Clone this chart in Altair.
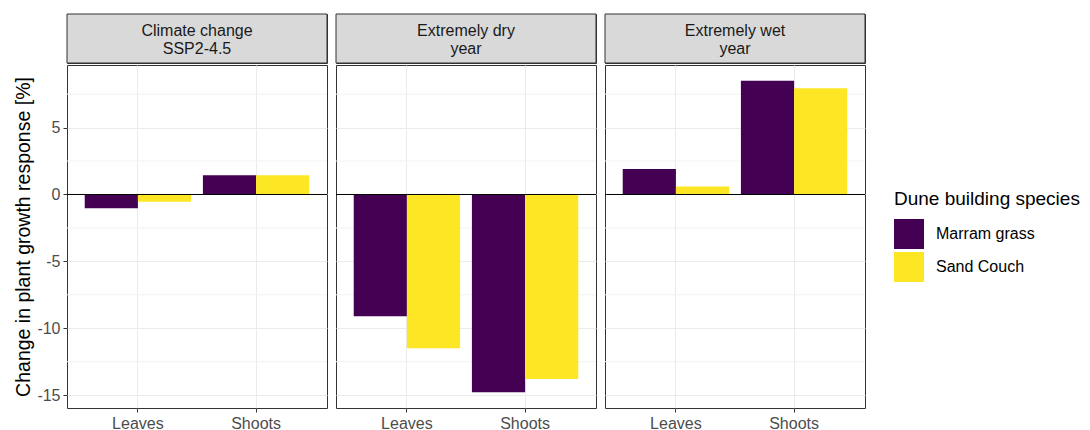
import altair as alt
import pandas as pd

# ---- data ----
panel_labels = ["Climate change\nSSP2-4.5", "Extremely dry\nyear", "Extremely wet\nyear"]
organs = ["Leaves", "Shoots"]
species = ["Marram grass", "Sand Couch"]
marram_leaves = [-1.02, -9.1, 1.9]
marram_shoots = [1.43, -14.79, 8.5]
sand_leaves = [-0.55, -11.5, 0.6]
sand_shoots = [1.43, -13.79, 7.95]
y_major = [-15, -10, -5, 0, 5]
y_minor = [-12.5, -7.5, -2.5, 2.5, 7.5]
y_domain = [-15.96, 9.68]
colors = ["#440154", "#FDE725"]

rows = []
for i, p in enumerate(panel_labels):
    rows.append({"panel": p, "organ": "Leaves", "species": "Marram grass", "value": marram_leaves[i]})
    rows.append({"panel": p, "organ": "Leaves", "species": "Sand Couch", "value": sand_leaves[i]})
    rows.append({"panel": p, "organ": "Shoots", "species": "Marram grass", "value": marram_shoots[i]})
    rows.append({"panel": p, "organ": "Shoots", "species": "Sand Couch", "value": sand_shoots[i]})
df = pd.DataFrame(rows)

PW, PH, SH = 260, 343, 49
FONT = "Liberation Sans"

yscale = alt.Scale(domain=y_domain, nice=False, zero=False)
color = alt.Color(
    "species:N",
    scale=alt.Scale(domain=species, range=colors),
    legend=alt.Legend(
        title="Dune building species",
        orient="none",
        legendX=827,
        legendY=176,
        titleFontSize=19,
        titleFont=FONT,
        titleFontWeight="normal",
        titleColor="#000000",
        titlePadding=10,
        titleLimit=400,
        labelFontSize=16,
        labelFont=FONT,
        labelColor="#000000",
        labelOffset=12,
        labelLimit=300,
        symbolType="square",
        symbolSize=900,
        symbolStrokeWidth=0,
        symbolOpacity=1,
        rowPadding=3,
        padding=0,
    ),
)


def make_panel(i):
    first = i == 0
    d = df[df["panel"] == panel_labels[i]]
    yaxis = alt.Axis(
        values=y_major,
        grid=True,
        gridColor="#EBEBEB",
        gridWidth=1,
        labels=first,
        ticks=first,
        domain=False,
        tickColor="#333333",
        tickSize=4,
        labelPadding=3,
        labelFontSize=16,
        labelColor="#4D4D4D",
        labelFont=FONT,
        labelExpr="replace(datum.label, '\u2212', '-')",
        title="Change in plant growth response [%]" if first else None,
        titleFontSize=19.5,
        titleFont=FONT,
        titleFontWeight="normal",
        titleColor="#000000",
        titlePadding=3,
    )
    xaxis = alt.Axis(
        title=None,
        grid=True,
        gridColor="#EBEBEB",
        bandPosition=0.5,
        domain=False,
        tickColor="#333333",
        tickSize=4,
        labelAngle=0,
        labelFontSize=16,
        labelColor="#4D4D4D",
        labelFont=FONT,
        labelPadding=3,
    )
    minor = alt.Chart(pd.DataFrame({"value": y_minor})).mark_rule(
        color="#F2F2F2", strokeWidth=1
    ).encode(y=alt.Y("value:Q", scale=yscale, axis=yaxis))
    bars = alt.Chart(d).mark_bar().encode(
        x=alt.X(
            "organ:N",
            scale=alt.Scale(domain=organs, paddingInner=0.1, paddingOuter=0.15),
            axis=xaxis,
        ),
        xOffset=alt.XOffset("species:N", scale=alt.Scale(domain=species, paddingInner=0, paddingOuter=0)),
        y=alt.Y("value:Q", scale=yscale, axis=yaxis),
        color=color,
    )
    zero = alt.Chart(pd.DataFrame({"value": [0]})).mark_rule(
        color="#000000", strokeWidth=1
    ).encode(y=alt.Y("value:Q", scale=yscale, axis=yaxis))
    main = alt.layer(minor, bars, zero).properties(width=PW, height=PH)

    sdf = pd.DataFrame({"label": [panel_labels[i]]})
    strip_rect = alt.Chart(sdf).mark_rect(
        fill="#D9D9D9", stroke="#333333", strokeWidth=1
    ).encode(x=alt.value(0), x2=alt.value(PW), y=alt.value(0), y2=alt.value(SH))
    strip_text = alt.Chart(sdf).mark_text(
        fontSize=16, font=FONT, color="#1A1A1A", lineBreak="\n", lineHeight=18,
        align="center", baseline="middle"
    ).encode(x=alt.value(PW / 2), y=alt.value(17), text="label:N")
    strip = alt.layer(strip_rect, strip_text).properties(width=PW, height=SH)
    return alt.vconcat(strip, main, spacing=0)


chart = alt.hconcat(*[make_panel(i) for i in range(3)], spacing=7).properties(
    padding={"left": 5, "top": 5, "right": 0, "bottom": 5}
).configure_view(
    stroke="#333333", strokeWidth=1
)

chart.save("out.html", embed_options={"renderer": "svg", "actions": False})
